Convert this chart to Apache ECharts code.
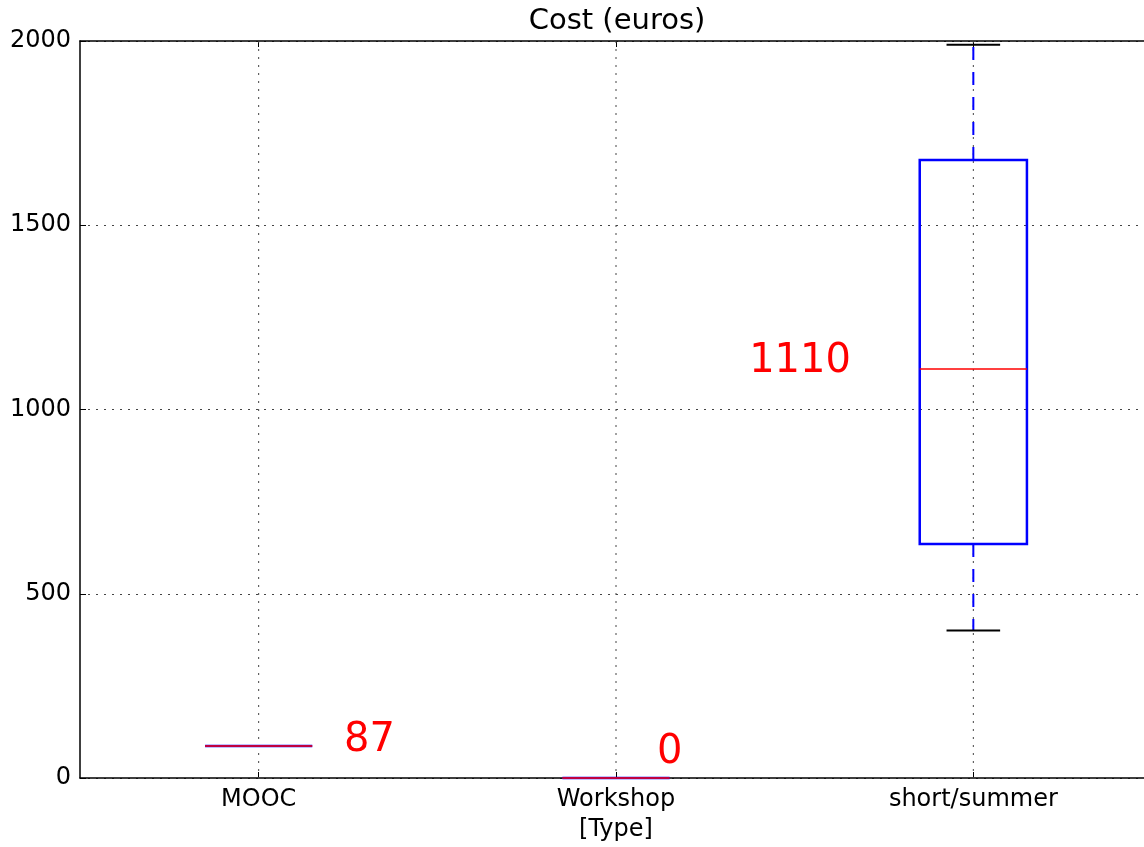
<!DOCTYPE html>
<html>
<head>
<meta charset="utf-8">
<script src="https://cdn.jsdelivr.net/npm/echarts@6/dist/echarts.min.js"></script>
<style>html,body{margin:0;padding:0;background:#fff}#c{width:1144px;height:847px}</style>
</head>
<body>
<div id="c"></div>
<script>
// ---- data ----
const categories = ['MOOC', 'Workshop', 'short/summer'];
const minVals    = [87, 0, 400];
const q1Vals     = [87, 0, 635];
const medianVals = [87, 0, 1110];
const q3Vals     = [87, 0, 1677];
const maxVals    = [87, 0, 1990];
const yTicks     = [0, 500, 1000, 1500, 2000];
// annotation anchor points (x in category-index units, y in euros)
const labelX = [0.31, 1.15, 1.515];
const labelY = [102, 68, 1130];

const FONT = 'DejaVu Sans';
const chart = echarts.init(document.getElementById('c'), null, {renderer: 'canvas'});

const boxData = categories.map((c, i) => [i, minVals[i], q1Vals[i], medianVals[i], q3Vals[i], maxVals[i]]);
const gridData = categories.map((c, i) => [i]);
const labelData = categories.map((c, i) => [labelX[i], labelY[i], String(medianVals[i])]);

const gridLineStyle = {stroke: '#444', lineWidth: 1, lineDash: [2, 6]};

const option = {
  animation: false,
  backgroundColor: '#fff',
  title: {
    text: 'Cost (euros)',
    left: 617, top: 7, textAlign: 'center', padding: 0,
    textStyle: {fontFamily: FONT, fontSize: 29, fontWeight: 'normal', color: '#000'}
  },
  grid: {left: 80, width: 1072, top: 41, bottom: 69, containLabel: false, outerBoundsMode: 'none'},
  xAxis: [
    {
      type: 'category', data: categories, position: 'bottom',
      name: '[Type]', nameLocation: 'middle', nameGap: 40,
      nameTextStyle: {fontFamily: FONT, fontSize: 24, color: '#000'},
      axisLine: {show: true, onZero: false, lineStyle: {color: '#000', width: 1.5}},
      axisTick: {show: true, inside: true, alignWithLabel: true, length: 6, lineStyle: {color: '#000', width: 1}},
      axisLabel: {fontFamily: FONT, fontSize: 24, color: '#000', margin: 10},
      splitLine: {show: false}
    },
    {
      type: 'category', data: categories, position: 'top',
      axisLine: {show: true, onZero: false, lineStyle: {color: '#000', width: 1.5}},
      axisTick: {show: true, inside: true, alignWithLabel: true, length: 6, lineStyle: {color: '#000', width: 1}},
      axisLabel: {show: false},
      splitLine: {show: false}
    },
    {
      type: 'value', min: -0.5, max: 2.5, show: false
    }
  ],
  yAxis: [{
    type: 'value', min: yTicks[0], max: yTicks[yTicks.length - 1], interval: 500,
    axisLine: {show: true, onZero: false, lineStyle: {color: '#000', width: 1.5}},
    axisTick: {show: true, inside: true, length: 6, lineStyle: {color: '#000', width: 1}},
    axisLabel: {fontFamily: FONT, fontSize: 24, color: '#000', margin: 9, formatter: v => String(v)},
    splitLine: {show: true, lineStyle: {color: '#444', width: 1, type: [2, 6]}}
  }],
  series: [
    {
      type: 'custom', xAxisIndex: 0, yAxisIndex: 0, z: 1, silent: true,
      data: gridData,
      encode: {x: 0},
      renderItem: function (params, api) {
        const i = api.value(0);
        const top = api.coord([i, yTicks[yTicks.length - 1]]);
        const bot = api.coord([i, yTicks[0]]);
        return {type: 'line', shape: {x1: top[0], y1: top[1], x2: bot[0], y2: bot[1]}, style: gridLineStyle};
      }
    },
    {
      type: 'custom', xAxisIndex: 0, yAxisIndex: 0, z: 5, silent: true, clip: false,
      data: boxData,
      encode: {x: 0, y: [1, 2, 3, 4, 5]},
      renderItem: function (params, api) {
        const i = api.value(0);
        const pMin = api.coord([i, api.value(1)]);
        const pQ1 = api.coord([i, api.value(2)]);
        const pMed = api.coord([i, api.value(3)]);
        const pQ3 = api.coord([i, api.value(4)]);
        const pMax = api.coord([i, api.value(5)]);
        const bw = api.size([1, 0])[0] * 0.3;
        const cw = bw / 2;
        const x = pMed[0];
        const whisk = {stroke: '#0000ff', lineWidth: 2, lineDash: [13, 12]};
        const cap = {stroke: '#000', lineWidth: 2};
        return {
          type: 'group',
          children: [
            {type: 'line', shape: {x1: x, y1: pQ1[1], x2: x, y2: pMin[1]}, style: whisk},
            {type: 'line', shape: {x1: x, y1: pQ3[1], x2: x, y2: pMax[1]}, style: whisk},
            {type: 'line', shape: {x1: x - cw / 2, y1: pMin[1], x2: x + cw / 2, y2: pMin[1]}, style: cap},
            {type: 'line', shape: {x1: x - cw / 2, y1: pMax[1], x2: x + cw / 2, y2: pMax[1]}, style: cap},
            {type: 'rect', shape: {x: x - bw / 2, y: pQ3[1], width: bw, height: pQ1[1] - pQ3[1]},
              style: {fill: 'none', stroke: '#0000ff', lineWidth: 2.5}},
            {type: 'line', shape: {x1: x - bw / 2, y1: pMed[1], x2: x + bw / 2, y2: pMed[1]},
              style: {stroke: '#ff0000', lineWidth: 1.5}}
          ]
        };
      }
    },
    {
      type: 'scatter', xAxisIndex: 2, yAxisIndex: 0, z: 6, silent: true,
      symbolSize: 0,
      itemStyle: {opacity: 1},
      data: labelData,
      label: {
        show: true, position: 'inside',
        formatter: p => p.value[2],
        fontFamily: FONT, fontSize: 40, color: '#ff0000', opacity: 1
      }
    }
  ]
};
chart.setOption(option);
</script>
</body>
</html>
